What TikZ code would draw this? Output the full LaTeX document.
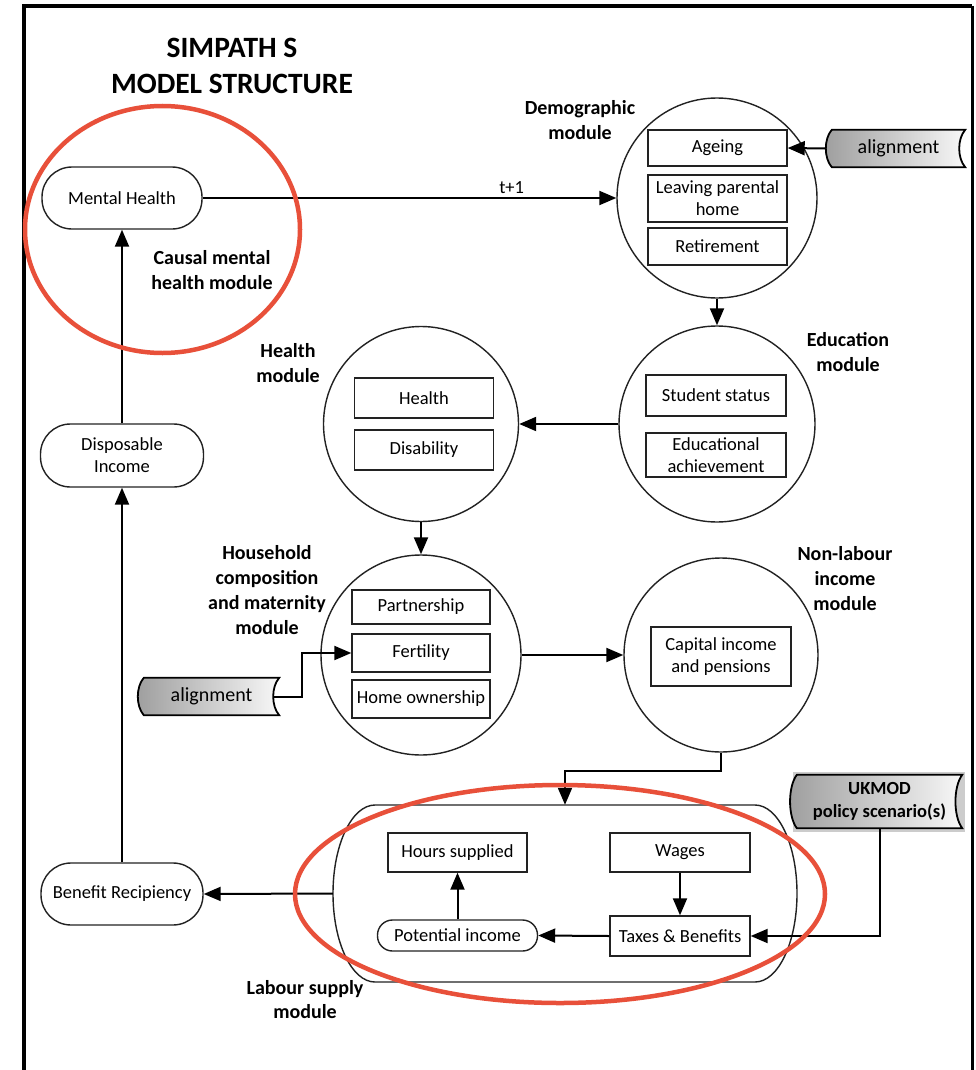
\documentclass[tikz,border=0pt]{standalone}
\usepackage{fontspec}
\setmainfont{Carlito}
\usetikzlibrary{arrows.meta}
\definecolor{redc}{HTML}{E8503A}
\definecolor{lc}{HTML}{222222}
\begin{document}
\begin{tikzpicture}[x=1pt,y=-1pt,
 font=\fontsize{18.5}{22}\selectfont,
 conn/.style={draw=black, line width=2pt, -{Triangle[length=17pt,width=14pt]}},
 module/.style={circle, draw=lc, line width=1.4pt, inner sep=0pt},
 box/.style={rectangle, draw=lc, line width=1.4pt, inner sep=0pt, align=center},
 pill/.style={rectangle, draw=lc, line width=1.4pt, inner sep=0pt, align=center},
 lab/.style={font=\bfseries\fontsize{20}{25}\selectfont, align=center, inner sep=0pt},
 tagbox/.style={rectangle, inner sep=0pt, align=center, font=\fontsize{20}{24}\selectfont},
 tagshape/.style={draw=black, line width=1.8pt, left color=black!38, right color=black!3},
 redring/.style={draw=redc, line width=4.5pt}
]
\useasboundingbox (0,0) rectangle (976,1070);
\fill[white] (0,0) rectangle (976,1070);
% frame
\draw[line width=4pt] (24,1072) -- (24,6) -- (972,6);
\draw[line width=3pt] (972,6) -- (972,1072);

% title
\node[font=\bfseries\fontsize{29.5}{36}\selectfont, align=center, inner sep=0pt] (title) at (232,66) {SIMPATH S\\MODEL STRUCTURE};

% left column
\node[pill, rounded corners=30pt, minimum width=160pt, minimum height=62pt] (mh) at (122,198) {Mental Health};
\node[pill, rounded corners=30pt, minimum width=163pt, minimum height=63pt] (di) at (122,455.5) {Disposable\\Income};
\node[pill, rounded corners=30pt, minimum width=162pt, minimum height=62pt] (br) at (122,894) {Benefit Recipiency};

% module circles
\node[module, minimum size=200pt] (dem) at (717,198) {};
\node[module, minimum size=196pt] (edu) at (717,424) {};
\node[module, minimum size=195pt] (hea) at (421,424) {};
\node[module, minimum size=200pt] (hh) at (421,655) {};
\node[module, minimum size=194pt] (nl) at (721,655) {};

% demographic boxes
\node[box, minimum width=139pt, minimum height=36pt] (age) at (717.5,148) {Ageing};
\node[box, minimum width=139pt, minimum height=47pt] (lph) at (717.5,198.5) {Leaving parental\\home};
\node[box, minimum width=139pt, minimum height=37pt] (ret) at (717.5,246.5) {Retirement};
% education boxes
\node[box, minimum width=140pt, minimum height=41pt] (stu) at (716,395.5) {Student status};
\node[box, minimum width=140pt, minimum height=44pt] (eda) at (716,455) {Educational\\achievement};
% health boxes
\node[box, minimum width=139pt, minimum height=40pt] (hel) at (424,398) {Health};
\node[box, minimum width=139pt, minimum height=40pt] (dis) at (424,450) {Disability};
% household boxes
\node[box, minimum width=138pt, minimum height=34pt] (par) at (421,607) {Partnership};
\node[box, minimum width=138pt, minimum height=38pt] (fer) at (421,653) {Fertility};
\node[box, minimum width=138pt, minimum height=38pt] (hom) at (421,699) {Home ownership};
% non-labour
\node[box, minimum width=140pt, minimum height=59pt] (cap) at (721,656.5) {Capital income\\and pensions};

% labour supply module
\node[rectangle, inner sep=0pt, minimum width=464pt, minimum height=177pt] (ls) at (565,893.5) {};
\draw[draw=lc, line width=1.4pt] (375,805) -- (755,805)
  arc[start angle=90, end angle=-90, x radius=42pt, y radius=88.5pt]
  -- (375,982)
  arc[start angle=270, end angle=90, x radius=42pt, y radius=88.5pt] -- cycle;
\node[box, minimum width=139pt, minimum height=39pt] (hrs) at (457.5,852.5) {Hours supplied};
\node[box, minimum width=140pt, minimum height=39pt] (wag) at (680,852.5) {Wages};
\node[box, minimum width=140pt, minimum height=40pt] (tax) at (680,936) {Taxes \& Benefits};
\node[pill, rounded corners=15pt, minimum width=160pt, minimum height=31pt] (pi) at (457.5,935.5) {Potential income};

% labels
\node[lab] (ldem) at (580,120) {Demographic\\module};
\node[lab] (lcm) at (212,270) {Causal mental\\health module};
\node[lab] (ledu) at (848,352) {Education\\module};
\node[lab] (lhea) at (288,363) {Health\\module};
\node[lab] (lhh) at (267,590) {Household\\composition\\and maternity\\module};
\node[lab] (lnl) at (845,579) {Non-labour\\income\\module};
\node[lab, font=\bfseries\fontsize{20}{24}\selectfont] (lls) at (305,1000) {Labour supply\\module};

% alignment tags
\node[tagbox, minimum width=133pt, minimum height=37pt] (al1) at (898.5,148.5) {alignment};
\path[tagshape] (al1.north west) .. controls +(-8pt,-9pt) and +(-8pt,9pt) .. (al1.south west)
  -- (al1.south east) .. controls +(-8pt,9pt) and +(-8pt,-9pt) .. (al1.north east) -- cycle;
\node[tagbox, minimum width=133pt, minimum height=37pt] at (898.5,148.5) {alignment};

\node[tagbox, minimum width=135pt, minimum height=37pt] (al2) at (211.5,696.5) {alignment};
\path[tagshape] (al2.north west) .. controls +(-8pt,-9pt) and +(-8pt,9pt) .. (al2.south west)
  -- (al2.south east) .. controls +(-8pt,9pt) and +(-8pt,-9pt) .. (al2.north east) -- cycle;
\node[tagbox, minimum width=135pt, minimum height=37pt] at (211.5,696.5) {alignment};

% UKMOD tag
\fill[black!20] (793,772) rectangle (965,832);
\node[tagbox, font=\bfseries\fontsize{18.5}{23}\selectfont, minimum width=165pt, minimum height=53pt] (uk) at (879.5,801.5) {UKMOD\\policy scenario(s)};
\path[tagshape] (uk.north west) .. controls +(-9pt,-12pt) and +(-9pt,12pt) .. (uk.south west)
  -- (uk.south east) .. controls +(-9pt,12pt) and +(-9pt,-12pt) .. (uk.north east) -- cycle;
\node[tagbox, font=\bfseries\fontsize{18.5}{23}\selectfont, minimum width=165pt, minimum height=53pt] at (879.5,801.5) {UKMOD\\policy scenario(s)};

% connectors
\draw[conn] (mh.east) -- node[pos=0.747, above=3pt, inner sep=0pt] (tp1) {t+1} (dem.west);
\draw[conn] ([xshift=-6pt]al1.west) -- (age.east);
\draw[conn] (dem.south) -- (edu.north);
\draw[conn] (edu.west) -- (hea.east);
\draw[conn] (hea.south) -- (hh.north);
\draw[conn] ([xshift=-5pt]al2.east) -- ++(28,0) |- (fer.west);
\draw[conn] (hh.east) -- (nl.west);
\draw[conn] (nl.south) -- ++(0,18) -| (ls.north);
\draw[conn] (ls.west) -- (br.east);
\draw[conn] (br.north) -- (di.south);
\draw[conn] (di.north) -- (mh.south);
\draw[conn] (wag.south) -- (tax.north);
\draw[conn] (tax.west) -- (pi.east);
\draw[conn] (pi.north) -- (hrs.south);
\draw[conn] (uk.south) |- (tax.east);

% red highlight rings
\draw[redring] (162.5,229.5) ellipse [x radius=137.5pt, y radius=123.5pt];
\draw[redring] (560,894) ellipse [x radius=265pt, y radius=109pt];
\end{tikzpicture}
\end{document}
